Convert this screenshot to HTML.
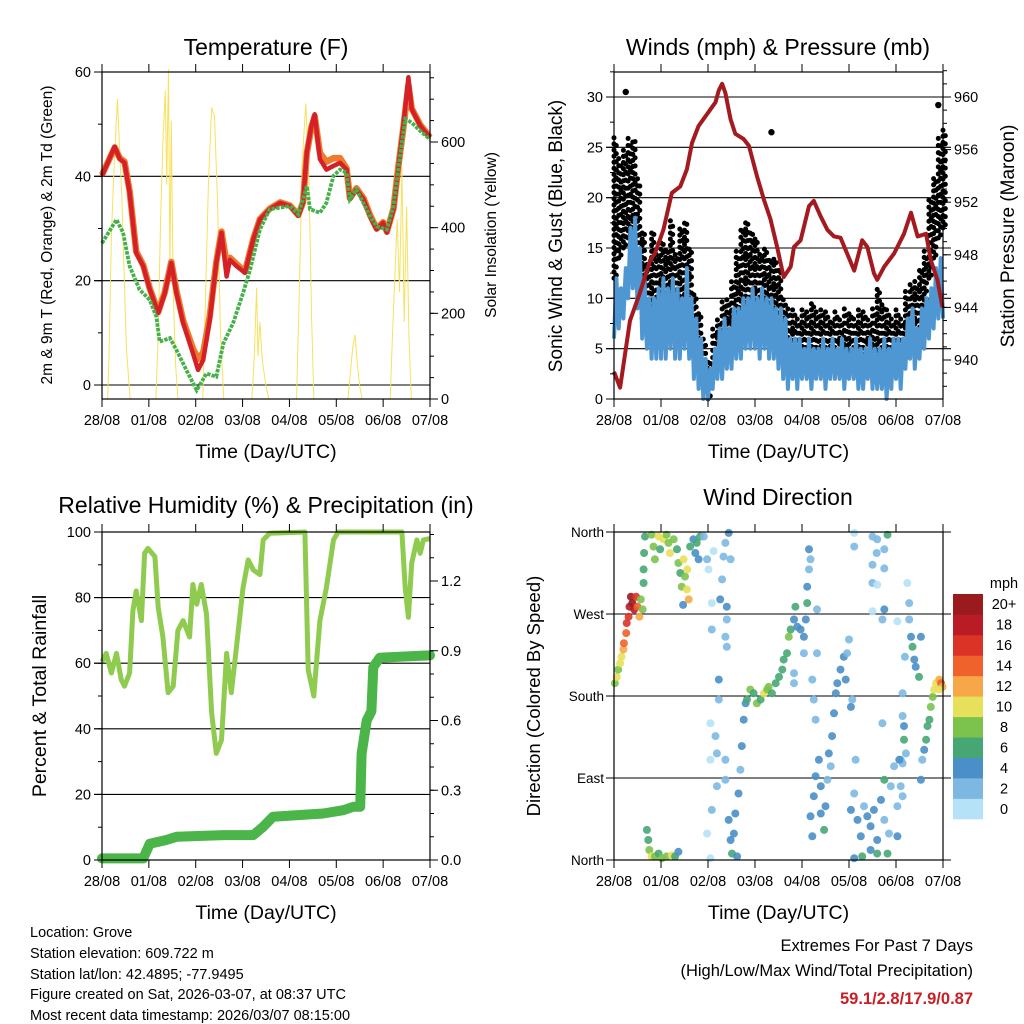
<!DOCTYPE html>
<html><head><meta charset="utf-8"><style>
html,body{margin:0;padding:0;background:#fff}
svg{display:block;font-family:"Liberation Sans",Arial,sans-serif}
</style></head><body>
<svg id="s" width="1024" height="1024" viewBox="0 0 1024 1024" xmlns="http://www.w3.org/2000/svg">
<rect width="1024" height="1024" fill="#fff"/>
<g id="g1"></g>
<g id="g2"></g>
<g id="g3"></g>
<g id="g4"></g>
<g font-size="14.5" fill="#000">
<text x="30" y="937">Location: Grove</text>
<text x="30" y="958">Station elevation: 609.722 m</text>
<text x="30" y="979">Station lat/lon: 42.4895; -77.9495</text>
<text x="30" y="999">Figure created on Sat, 2026-03-07, at 08:37 UTC</text>
<text x="30" y="1020">Most recent data timestamp: 2026/03/07 08:15:00</text>
</g>
<g font-size="16.5" text-anchor="end">
<text x="973" y="951">Extremes For Past 7 Days</text>
<text x="973" y="976">(High/Low/Max Wind/Total Precipitation)</text>
<text x="973" y="1004" fill="#c81e24" font-weight="bold">59.1/2.8/17.9/0.87</text>
</g>
</svg>
<script>
// ---------- data ----------
const dayLabels=["28/08","01/08","02/08","03/08","04/08","05/08","06/08","07/08"];
const tempDays=[0,0.27,0.38,0.48,0.59,0.73,0.88,1.02,1.20,1.34,1.48,1.59,1.73,1.94,2.05,2.16,2.30,2.44,2.55,2.66,2.73,2.87,3.05,3.23,3.37,3.58,3.80,4.01,4.19,4.29,4.37,4.47,4.54,4.65,4.79,4.94,5.08,5.22,5.29,5.43,5.58,5.72,5.86,6.00,6.08,6.22,6.32,6.43,6.54,6.61,6.79,7.0];
const temp2m=[40.1,45.7,43.3,42.6,36.9,25.3,22.8,18.3,13.8,17.6,23.4,17.6,11.9,6.1,2.9,4.8,12.5,23.4,29.2,20.8,24,22.8,21.5,27.9,31.7,33.7,34.9,34.3,32.4,34.9,44.6,49.7,51.9,43.3,41.3,42,42.6,41.3,35.6,37.5,35.6,32.4,29.8,31.1,29.2,33.7,41.3,49.7,59,52.9,49.7,47.4];
const temp9m=[40.3,45.5,43.5,42.8,37.2,25.6,23.0,18.5,14.0,17.8,23.6,18.0,12.4,7.0,5.0,6.2,13.2,23.6,29.4,23.3,24.4,23.2,21.7,28.0,31.8,33.8,35.0,34.4,32.6,35.0,44.4,49.5,51.5,44.5,42.8,43.5,43.5,41.5,35.8,37.7,35.8,32.6,30.0,31.2,29.4,33.8,41.5,49.2,57.5,53.0,49.9,47.5];
const dewDays=[0,0.31,0.45,0.59,0.80,1.02,1.16,1.23,1.45,1.59,1.80,2.02,2.23,2.44,2.59,2.80,3.01,3.16,3.37,3.58,4.01,4.19,4.29,4.37,4.44,4.65,4.79,4.94,5.08,5.22,5.29,5.43,5.72,5.86,6.08,6.22,6.36,6.47,6.61,6.79,7.0];
const dew2m=[27.2,31.7,29.2,22.8,18.3,16.3,13.1,8.3,9,6.7,2.9,-1,2.2,1.6,8,11.9,17.6,22.1,29.8,33.7,34.3,32.7,35.6,38.1,33.7,33,34.9,40.1,41.3,40.7,35.6,37.5,32.4,30.4,29.8,34.3,43.9,51,50.3,48.7,47.1];
const solarDays=[0,0.12,0.15,0.2,0.25,0.3,0.33,0.37,0.42,0.47,0.52,0.6,1.15,1.2,1.25,1.3,1.35,1.38,1.42,1.45,1.48,1.52,1.57,1.62,2.15,2.2,2.27,2.34,2.4,2.47,2.53,2.6,3.2,3.25,3.3,3.33,3.37,3.42,3.5,3.56,4.15,4.2,4.27,4.35,4.42,4.47,4.52,5.25,5.3,5.35,5.4,5.45,5.5,5.55,6.15,6.2,6.3,6.35,6.4,6.45,6.5,6.55,6.6,7.0];
const solarVals=[0,0,100,380,520,640,700,600,480,300,120,0,0,150,420,600,720,500,770,300,650,250,80,0,0,200,500,680,660,450,150,0,0,100,260,100,180,90,30,0,0,200,550,690,500,200,0,0,60,120,150,80,30,0,0,150,420,250,540,180,450,150,0,0];
const tempTicks=[0,20,40,60];
const solarTicks=[0,200,400,600];

const stepDays=[];for(let i=0;i<=70;i++)stepDays.push(i/10);
const sonicLo=[6,7,8,10,11,9,6,5,4,4,4,4,5,4,4,5,4,2,1,0,0,1,2,2,3,3,4,4,5,5,5,4,5,4,4,3,2,1,2,1,2,2,1,2,2,1,2,2,2,1,2,2,1,1,2,1,1,1,0,1,2,1,3,4,3,4,5,6,7,8,8];
const sonicHi=[12,11,13,17,18,15,12,10,10,11,12,11,12,11,10,13,10,8,6,4,3,5,7,8,7,9,9,10,10,11,10,11,10,10,9,9,8,6,6,6,5,6,5,5,6,5,6,5,6,5,5,6,5,5,6,5,5,6,5,6,6,6,8,9,7,9,10,11,13,14,12];
const gustLo=[12,14,15,16,14,12,8,7,8,8,7,7,8,8,9,9,7,4,3,1,0,2,3,4,5,6,8,9,9,8,8,8,7,6,6,5,5,4,4,3,4,3,4,3,4,3,4,3,3,4,3,3,4,3,3,4,3,3,4,3,4,3,4,5,5,5,8,12,14,16,17];
const gustHi=[26,24,25,26,26,22,17,14,17,15,16,15,18,15,17,18,15,11,9,6,4,7,8,10,10,12,15,17,18,17,16,15,15,14,14,13,10,9,9,8,9,9,10,9,9,9,8,9,8,9,9,8,9,9,8,9,11,10,9,8,9,8,11,12,12,13,15,20,22,26,27];
const gustOutDays=[0.25,3.35,6.9];
const gustOutVals=[30.5,26.5,29.2];
const presDays=[0,0.13,0.34,0.55,0.77,0.87,1.05,1.23,1.41,1.55,1.66,1.80,1.98,2.16,2.23,2.30,2.37,2.48,2.58,2.76,2.87,3.04,3.19,3.33,3.47,3.61,3.76,3.83,3.97,4.15,4.25,4.40,4.54,4.68,4.82,4.96,5.11,5.28,5.39,5.53,5.60,5.75,5.96,6.17,6.32,6.46,6.64,6.74,6.88,6.99];
const presVals=[939.1,937.9,943,945.1,947.6,948.1,949.9,952.7,953.2,954.5,956.5,957.8,958.7,959.6,960.5,961,960.3,958.3,957.2,956.8,956.3,954,952.2,950.7,948.6,946.3,947.1,948.6,949.1,951.7,952.1,950.9,949.9,949.4,949.3,948.1,946.8,949.1,948.6,946.6,946.1,947.1,948.1,949.6,951.2,949.4,949.6,947.6,946.1,944];
const windTicks=[0,5,10,15,20,25,30];
const presTicks=[940,944,948,952,956,960];

const rhDays=[0,0.09,0.20,0.31,0.41,0.48,0.59,0.66,0.73,0.84,0.91,0.98,1.13,1.20,1.30,1.41,1.52,1.62,1.73,1.87,1.94,2.02,2.12,2.23,2.34,2.44,2.55,2.66,2.76,2.87,3.01,3.12,3.23,3.37,3.44,3.58,4.33,4.40,4.52,4.65,4.79,4.94,5.04,6.40,6.47,6.54,6.61,6.72,6.79,6.86,7.0];
const rhVals=[60.5,63,57,63,55,53,57,76,82,73,93.5,95,92.5,77,68,51,53,70,73,68,84,78,84,75,45,32.5,36.6,63,51,65,83,91.5,88.4,87,97.6,99.6,100,58,50,73,83,97.6,100,100,83,74,90.5,97.6,93.5,97.6,98];
const rainDays=[0,0.88,1.02,1.37,1.59,2.59,3.23,3.44,3.65,4.72,5.15,5.36,5.51,5.54,5.65,5.75,5.79,5.93,6.86,7.0];
const rainVals=[0.007,0.007,0.07,0.086,0.1,0.107,0.107,0.143,0.186,0.2,0.214,0.229,0.229,0.457,0.6,0.64,0.83,0.87,0.879,0.88];
const rhTicks=[0,20,40,60,80,100];
const rainTicks=[0.0,0.3,0.6,0.9,1.2];

const dirDays=[0.02,0.06,0.09,0.13,0.16,0.20,0.21,0.26,0.27,0.31,0.33,0.36,0.39,0.43,0.47,0.50,0.54,0.57,0.61,0.63,0.64,0.66,0.63,
0.80,0.84,0.87,0.95,0.98,1.05,1.12,1.16,1.19,1.27,1.34,1.37,1.41,1.44,1.48,1.51,1.55,1.59,1.56,1.62,1.69,1.73,1.76,1.83,1.80,1.47,
0.70,0.73,0.75,0.80,0.87,0.95,1.02,1.12,1.23,1.30,1.37,
1.91,1.98,2.01,2.08,2.08,2.12,2.05,2.05,2.08,1.98,2.05,2.16,2.19,2.19,2.23,2.23,2.26,2.30,2.33,2.37,2.44,2.48,2.40,2.40,2.37,2.40,2.37,2.37,2.44,2.48,2.51,2.55,2.58,2.62,
2.65,2.69,2.72,2.76,2.80,2.83,2.90,2.97,3.04,3.12,3.19,3.26,3.29,3.36,3.44,3.51,3.58,3.61,3.68,3.72,3.76,3.83,3.86,3.90,3.97,4.04,4.08,4.11,4.11,4.15,4.15,4.18,4.04,3.83,3.83,4.22,4.25,4.29,4.32,4.32,
4.18,4.22,4.25,4.29,4.36,4.40,4.40,4.47,4.50,4.54,4.57,4.61,4.64,4.68,4.72,4.75,4.82,4.89,4.96,5.00,4.93,5.04,5.07,
5.04,5.11,5.14,5.18,5.25,5.28,5.32,5.39,5.46,5.53,5.60,5.68,5.75,5.75,5.82,5.85,5.89,5.96,6.03,6.03,6.10,6.14,5.11,5.46,5.60,
5.11,5.11,5.50,5.60,5.59,5.75,5.50,5.75,5.50,5.60,5.75,5.50,5.71,5.71,5.82,6.03,
6.24,6.28,6.28,6.32,6.35,6.39,6.42,6.49,6.53,6.19,6.14,6.14,6.17,6.17,6.21,6.14,6.07,6.10,
6.53,6.56,6.60,6.64,6.67,6.71,6.74,6.78,6.81,6.85,6.92,6.96,6.99,6.92];
const dirDeg=[194,201,209,216,223,231,238,249,260,267,278,289,282,275,289,278,267,286,275,319,337,355,304,
357,344,330,355,341,352,357,348,337,352,341,326,315,300,330,311,297,286,319,344,352,337,348,355,330,280,
33,22,11,4,4,7,2,4,5,4,9,
355,330,319,282,253,339,150,110,55,29,2,136,117,81,176,198,286,308,333,348,359,330,278,264,245,234,110,88,44,22,7,29,51,4,
73,99,125,154,172,176,187,183,172,176,183,187,190,183,194,201,209,220,227,245,253,264,278,256,253,245,264,282,300,319,341,330,227,205,194,198,176,154,227,275,
48,26,70,92,110,81,51,33,59,88,117,103,136,161,183,194,209,223,227,242,198,168,176,
55,73,110,44,26,4,59,48,37,55,22,66,44,88,7,29,81,103,59,26,110,70,2,11,7,
359,344,355,352,337,341,324,320,304,302,275,273,264,150,357,262,
304,282,264,245,234,220,212,201,245,223,183,158,147,132,117,106,110,81,
88,110,121,132,147,154,168,179,187,194,198,194,190,187];
const dirSpeed=[9,10,9,10,10,12,14,15,17,17,19,20,20,18,16,14,12,9,8,7,6,7,6,
8,9,8,10,7,10,9,8,10,9,7,8,7,9,10,8,11,12,10,6,5,4,7,6,4,4,
6,7,8,11,8,7,9,8,10,7,5,
2,2,1,1,2,1,1,1,2,1,1,2,3,2,3,4,4,3,2,3,4,3,4,3,2,3,2,3,4,5,7,4,5,4,
4,3,4,4,5,7,8,7,8,7,10,9,8,7,7,6,7,7,6,8,7,5,6,4,4,4,5,6,4,3,4,2,3,2,3,2,3,2,2,2,
4,4,4,4,4,4,5,6,4,3,4,3,4,4,5,4,4,4,3,2,4,4,3,
4,2,2,4,5,6,3,4,4,4,5,4,2,7,6,3,2,2,3,4,3,2,4,4,7,
1,2,3,2,2,3,2,3,2,1,4,1,2,3,7,1,
1,2,3,4,6,5,5,6,4,2,3,2,5,6,2,3,4,2,
4,3,5,6,7,7,8,9,10,11,12,15,12,11];
const dirTickLabels=["North","East","South","West","North"];
const speedBinLabels=["0","2","4","6","8","10","12","14","16","18","20+"];
const speedColors=["#b5e2f7","#7db8e3","#4a8fc7","#47a774","#7cc34e","#e7e05a","#f7a748","#f0622b","#dc3327","#b91c24","#9b1a1e"];

// ---------- helpers ----------
const NS="http://www.w3.org/2000/svg";
function mk(parent,tag,attrs,text){const e=document.createElementNS(NS,tag);for(const k in attrs)e.setAttribute(k,attrs[k]);if(text!==undefined)e.textContent=text;parent.appendChild(e);return e;}
function lin(d0,d1,r0,r1){return v=>r0+(v-d0)/(d1-d0)*(r1-r0);}
const X0=[102,430],X1=[614,943];
function pathFrom(xs,ys,sx,sy){return xs.map((d,i)=>(i?"L":"M")+sx(d).toFixed(1)+","+sy(ys[i]).toFixed(1)).join("");}

function xAxis(g,sx,yb,yt){
  for(let i=0;i<dayLabels.length;i++){
    const x=sx(i);
    let t=mk(g,"line",{x1:x,x2:x,y1:yb,y2:yb+8,stroke:"#000","stroke-width":1});
    
    
    t=mk(g,"line",{x1:x,x2:x,y1:yt,y2:yt-8,stroke:"#000","stroke-width":1});
    
    
    const l=mk(g,"text",{x:x,y:yb+26,"text-anchor":"middle","font-size":"14.5"},dayLabels[i]);
    
    
  }
  const ti=mk(g,"text",{x:(sx(0)+sx(7))/2,y:yb+59,"text-anchor":"middle","font-size":"19.5"},"Time (Day/UTC)");
  
  
}
function frame(g,x0,x1,y0,y1){const f=mk(g,"rect",{x:x0,y:y0,width:x1-x0,height:y1-y0,fill:"none",stroke:"#000","stroke-width":1.2});
  
  }
function title(g,x,y,t){const e=mk(g,"text",{x:x,y:y,"text-anchor":"middle","font-size":"23"},t);
  
  }
function vtitle(g,x,y,t,fs){const e=mk(g,"text",{x:x,y:y,"text-anchor":"middle","font-size":fs,transform:`rotate(-90 ${x} ${y})`},t);
  
  }
function yTicks(g,sy,ticks,xEdge,side,fmt,minorStep,lo,hi){
  const dir=side==="left"?-1:1;
  for(let v=lo;v<=hi+1e-9;v+=minorStep){const y=sy(v);const m=mk(g,"line",{x1:xEdge,x2:xEdge+dir*4,y1:y,y2:y,stroke:"#000"});
    
    }
  ticks.forEach(v=>{const y=sy(v);
    const t=mk(g,"line",{x1:xEdge,x2:xEdge+dir*8,y1:y,y2:y,stroke:"#000"});
    
    
    const l=mk(g,"text",{x:xEdge+dir*11,y:y+5,"text-anchor":side==="left"?"end":"start","font-size":"14.5"},fmt(v));
    
    });
}
function grid(g,sy,vals,x0,x1){vals.forEach(v=>{const y=sy(v);const l=mk(g,"line",{x1:x0-8,x2:x1,y1:y,y2:y,stroke:"#000","stroke-width":1.1});
  
  });}

// ---------- panel 1: temperature ----------
(function(){
  const g=document.getElementById("g1");
  const sx=lin(0,7,X0[0],X0[1]);const sy=lin(0,60,385,72);const sS=lin(0,600,399,142);
  title(g,266,55,"Temperature (F)");
  grid(g,sy,[0,20,40],X0[0],X0[1]);
  let p=mk(g,"path",{d:pathFrom(solarDays,solarVals,sx,sS),fill:"none",stroke:"#f7e15c","stroke-width":1});
  
  
  p=mk(g,"path",{d:pathFrom(tempDays,temp9m,sx,sy),fill:"none",stroke:"#f07a2c","stroke-width":6.5,"stroke-linejoin":"round"});
  
  
  p=mk(g,"path",{d:pathFrom(tempDays,temp2m,sx,sy),fill:"none",stroke:"#d42027","stroke-width":4.5,"stroke-linejoin":"round"});
  
  
  p=mk(g,"path",{d:pathFrom(dewDays,dew2m,sx,sy),fill:"none",stroke:"#46b14a","stroke-width":3.8,"stroke-dasharray":"3.5 1.2"});
  
  
  frame(g,X0[0],X0[1],72,399);
  yTicks(g,sy,tempTicks,X0[0],"left",v=>v,10,0,60);
  yTicks(g,sS,solarTicks,X0[1],"right",v=>v,50,0,750);
  xAxis(g,sx,399,72);
  vtitle(g,52,235,"2m & 9m T (Red, Orange) & 2m Td (Green)","15.5");
  vtitle(g,496,235,"Solar Insolation (Yellow)","15.5");
})();

// ---------- panel 2: winds ----------
(function(){
  const g=document.getElementById("g2");
  const sx=lin(0,7,X1[0],X1[1]);const sy=lin(0,30,399,97);const sp=lin(940,960,360,97);
  title(g,778,55,"Winds (mph) & Pressure (mb)");
  grid(g,sy,[5,10,15,20,25,30],X1[0],X1[1]+8);
  stepDays.forEach((d,i)=>{const x=sx(d);
    const l=mk(g,"line",{x1:x,x2:x,y1:sy(gustLo[i]),y2:sy(gustHi[i]),stroke:"#000","stroke-width":5,"stroke-linecap":"round","stroke-dasharray":(i%2?"0.1 7":"0.1 6")});
    
    
    const l2=mk(g,"line",{x1:x+2.3,x2:x+2.3,y1:sy(gustLo[i])-3,y2:sy(gustHi[i])+3,stroke:"#000","stroke-width":5,"stroke-linecap":"round","stroke-dasharray":"0.1 8"});
    
    });
  gustOutDays.forEach((d,i)=>{const c=mk(g,"circle",{cx:sx(d),cy:sy(gustOutVals[i]),r:3.2,fill:"#000"});
    
    });
  let d="";stepDays.forEach((t,i)=>{d+=(i?"L":"M")+sx(t).toFixed(1)+","+sy(sonicLo[i]).toFixed(1);
    if(i<stepDays.length-1)d+="L"+sx(t+0.05).toFixed(1)+","+sy(sonicHi[i]).toFixed(1);});
  let p=mk(g,"path",{d:d,fill:"none",stroke:"#4f97d2","stroke-width":4,"stroke-linejoin":"round"});
  
  
  p=mk(g,"path",{d:pathFrom(presDays,presVals,sx,sp),fill:"none",stroke:"#a31a1f","stroke-width":4,"stroke-linejoin":"round"});
  
  
  frame(g,X1[0],X1[1],72,399);
  yTicks(g,sy,windTicks,X1[0],"left",v=>v,2.5,0,32.5);
  yTicks(g,sp,presTicks,X1[1],"right",v=>v,1,938,962);
  xAxis(g,sx,399,72);
  vtitle(g,562,236,"Sonic Wind & Gust (Blue, Black)","19");
  vtitle(g,1014,236,"Station Pressure (Maroon)","19");
})();

// ---------- panel 3: RH ----------
(function(){
  const g=document.getElementById("g3");
  const sx=lin(0,7,X0[0],X0[1]);const sy=lin(0,100,860,532);const sr=lin(0,1.2,860,581);
  title(g,266,513,"Relative Humidity (%) & Precipitation (in)");
  grid(g,sy,[20,40,60,80],X0[0],X0[1]);
  let p=mk(g,"path",{d:pathFrom(rhDays,rhVals,sx,sy),fill:"none",stroke:"#8fcb4f","stroke-width":5,"stroke-linejoin":"round"});
  
  
  p=mk(g,"path",{d:pathFrom(rainDays,rainVals,sx,sr),fill:"none",stroke:"#4bb549","stroke-width":10,"stroke-linejoin":"round","stroke-linecap":"round"});
  
  
  frame(g,X0[0],X0[1],532,860);
  yTicks(g,sy,rhTicks,X0[0],"left",v=>v,10,0,100);
  yTicks(g,sr,rainTicks,X0[1],"right",v=>v.toFixed(1),0.1,0,1.4);
  xAxis(g,sx,860,532);
  vtitle(g,46,696,"Percent & Total Rainfall","19.5");
})();

// ---------- panel 4: wind direction ----------
(function(){
  const g=document.getElementById("g4");
  const sx=lin(0,7,X1[0],X1[1]);const sy=lin(0,360,860,532);
  title(g,778,505,"Wind Direction");
  grid(g,sy,[0,90,180,270,360],X1[0],X1[1]+8);
  dirDays.forEach((d,i)=>{const b=Math.min(10,Math.floor(dirSpeed[i]/2));
    const c=mk(g,"circle",{cx:sx(d).toFixed(1),cy:sy(dirDeg[i]).toFixed(1),r:4,fill:speedColors[b],"fill-opacity":0.9});
    
    });
  frame(g,X1[0],X1[1],532,860);
  [0,90,180,270,360].forEach((v,i)=>{const y=sy(v);
    const t=mk(g,"line",{x1:X1[0],x2:X1[0]-8,y1:y,y2:y,stroke:"#000"});
    
    
    const l=mk(g,"text",{x:X1[0]-10,y:y+5,"text-anchor":"end","font-size":"13.5"},dirTickLabels[i]);
    
    });
  xAxis(g,sx,860,532);
  vtitle(g,540,696,"Direction (Colored By Speed)","18.5");
  const lg=mk(g,"g",{});
  
  
  const t=mk(lg,"text",{x:1004,y:588,"text-anchor":"middle","font-size":"14.5"},"mph");
  
  
  const bh=225/11;
  speedColors.forEach((c,i)=>{const y=594+(10-i)*bh;
    const r=mk(lg,"rect",{x:953,y:y.toFixed(1),width:30,height:(bh+0.3).toFixed(1),fill:c});
    
    
    const l=mk(lg,"text",{x:1004,y:(y+bh/2+5).toFixed(1),"text-anchor":"middle","font-size":"14.5"},speedBinLabels[i]);
    
    });
})();
</script>
</body></html>
